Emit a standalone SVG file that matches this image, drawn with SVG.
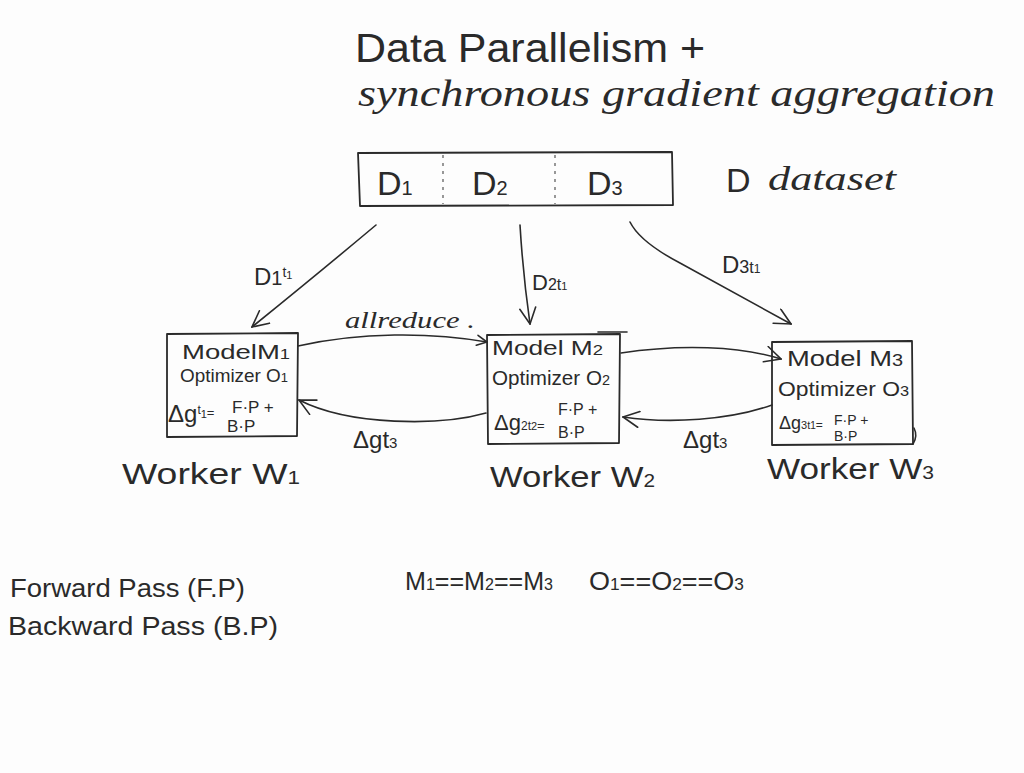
<svg xmlns="http://www.w3.org/2000/svg" width="1024" height="773" viewBox="0 0 1024 773">
<style>
.t{font-family:"Liberation Sans","DejaVu Sans",sans-serif;fill:#2a2a2a}
.c{font-family:"Liberation Serif","DejaVu Serif",serif;font-style:italic;fill:#2a2a2a}
.ln{fill:none;stroke:#2a2a2a;stroke-width:1.6;stroke-linecap:round;stroke-linejoin:round}
.bx{fill:none;stroke:#2a2a2a;stroke-width:1.8;stroke-linejoin:round}
.dv{fill:none;stroke:#555;stroke-width:1.2;stroke-dasharray:3 5}
</style>
<defs>
<marker id="ah" viewBox="0 0 12 12" refX="11" refY="6" markerWidth="12" markerHeight="12" markerUnits="userSpaceOnUse" orient="auto">
<path d="M1,1 L11,6 L1,11" fill="none" stroke="#2a2a2a" stroke-width="1.6" stroke-linecap="round"/>
</marker>
<marker id="ahL" viewBox="0 0 18 18" refX="17" refY="9" markerWidth="18" markerHeight="18" markerUnits="userSpaceOnUse" orient="auto">
<path d="M1,1 L17,9 L1,17" fill="none" stroke="#2a2a2a" stroke-width="1.6" stroke-linecap="round"/>
</marker>
</defs>
<rect width="1024" height="773" fill="#fdfdfd"/>

<g id="title">
<text class="t" x="355" y="62" font-size="40" textLength="350" lengthAdjust="spacingAndGlyphs">Data Parallelism +</text>
<text class="c" x="358" y="106" font-size="37" textLength="637" lengthAdjust="spacingAndGlyphs">synchronous gradient aggregation</text>
</g>

<g id="dataset">
<path class="bx" d="M358,153 L672,152 L673,205 L360,206 Z"/>
<line class="dv" x1="443" y1="155" x2="443" y2="204"/>
<line class="dv" x1="555" y1="155" x2="555" y2="204"/>
<text class="t" x="377" y="195" font-size="34">D<tspan font-size="20">1</tspan></text>
<text class="t" x="472" y="195" font-size="34">D<tspan font-size="20">2</tspan></text>
<text class="t" x="587" y="195" font-size="34">D<tspan font-size="20">3</tspan></text>
<text class="t" x="726" y="192" font-size="34">D</text>
<text class="c" x="768" y="190" font-size="34" textLength="128" lengthAdjust="spacingAndGlyphs">dataset</text>
</g>

<g id="w1">
<path class="bx" d="M167,334 L298,333 L297,436 L167,437 Z"/>
<text class="t" x="182" y="359" font-size="21" textLength="108" lengthAdjust="spacingAndGlyphs">ModelM<tspan font-size="14">1</tspan></text>
<text class="t" x="180" y="382" font-size="19" textLength="108" lengthAdjust="spacingAndGlyphs">Optimizer O<tspan font-size="13">1</tspan></text>
<text class="t" x="168" y="422" font-size="24">Δg<tspan font-size="12" dy="-8">t</tspan><tspan font-size="11" dy="4">1</tspan><tspan font-size="13" dy="-1">=</tspan></text>
<text class="t" x="232" y="413" font-size="17">F·P +</text>
<text class="t" x="227" y="432" font-size="17">B·P</text>
</g>

<g id="w2">
<path class="bx" d="M487,335 L620,334 L619,443 L488,444 Z"/>
<path class="ln" d="M598,332 L627,332"/>
<text class="t" x="492" y="355" font-size="20" textLength="111" lengthAdjust="spacingAndGlyphs">Model M<tspan font-size="14">2</tspan></text>
<text class="t" x="492" y="385" font-size="20" textLength="118" lengthAdjust="spacingAndGlyphs">Optimizer O<tspan font-size="14">2</tspan></text>
<text class="t" x="494" y="430" font-size="22">Δg<tspan font-size="12">2</tspan><tspan font-size="12">t</tspan><tspan font-size="11">2</tspan><tspan font-size="13">=</tspan></text>
<text class="t" x="558" y="415" font-size="16">F·P +</text>
<text class="t" x="558" y="438" font-size="16">B·P</text>
</g>

<g id="w3">
<path class="bx" d="M772,342 L912,341 L913,444 L772,445 Z"/>
<path class="ln" d="M914,428 Q918,436 913,444"/>
<text class="t" x="787" y="366" font-size="22" textLength="116" lengthAdjust="spacingAndGlyphs">Model M<tspan font-size="16">3</tspan></text>
<text class="t" x="778" y="396" font-size="21" textLength="131" lengthAdjust="spacingAndGlyphs">Optimizer O<tspan font-size="15">3</tspan></text>
<text class="t" x="779" y="429" font-size="18">Δg<tspan font-size="11">3</tspan><tspan font-size="11">t</tspan><tspan font-size="10">1</tspan><tspan font-size="12">=</tspan></text>
<text class="t" x="834" y="425" font-size="14">F·P +</text>
<text class="t" x="834" y="441" font-size="14">B·P</text>
</g>

<g id="worker-labels">
<text class="t" x="122" y="484" font-size="30" textLength="178" lengthAdjust="spacingAndGlyphs">Worker W<tspan font-size="18">1</tspan></text>
<text class="t" x="490" y="487" font-size="30" textLength="165" lengthAdjust="spacingAndGlyphs">Worker W<tspan font-size="18">2</tspan></text>
<text class="t" x="767" y="479" font-size="30" textLength="167" lengthAdjust="spacingAndGlyphs">Worker W<tspan font-size="18">3</tspan></text>
</g>

<g id="connectors">
<path class="ln" d="M376,225 Q320,272 252,327" marker-end="url(#ahL)"/>
<path class="ln" d="M520,225 Q523,275 530,324" marker-end="url(#ahL)"/>
<path class="ln" d="M630,222 Q640,242 680,263 L791,324" marker-end="url(#ahL)"/>
<path class="ln" d="M298,346 C360,332 430,332 487,342" marker-end="url(#ah)"/>
<path class="ln" d="M486,413 C440,426 350,426 299,400" marker-end="url(#ahL)"/>
<path class="ln" d="M621,353 C680,344 740,346 781,359" marker-end="url(#ahL)"/>
<path class="ln" d="M772,405 C730,420 670,424 623,417" marker-end="url(#ahL)"/>
</g>

<g id="connector-labels">
<text class="t" x="254" y="285" font-size="24">D<tspan font-size="20">1</tspan><tspan font-size="14" dy="-8">t</tspan><tspan font-size="11" dy="2">1</tspan></text>
<text class="t" x="532" y="290" font-size="22">D<tspan font-size="16">2</tspan><tspan font-size="16">t</tspan><tspan font-size="11">1</tspan></text>
<text class="t" x="722" y="273" font-size="24">D<tspan font-size="18">3</tspan><tspan font-size="16">t</tspan><tspan font-size="12">1</tspan></text>
<text class="c" x="345" y="328" font-size="24" textLength="130" lengthAdjust="spacingAndGlyphs">allreduce .</text>
<text class="t" x="353" y="448" font-size="24">Δgt<tspan font-size="15">3</tspan></text>
<text class="t" x="683" y="448" font-size="24">Δgt<tspan font-size="15">3</tspan></text>
</g>

<g id="legend">
<text class="t" x="10" y="597" font-size="26" textLength="235" lengthAdjust="spacingAndGlyphs">Forward Pass (F.P)</text>
<text class="t" x="8" y="635" font-size="26" textLength="270" lengthAdjust="spacingAndGlyphs">Backward Pass (B.P)</text>
</g>

<g id="equalities">
<text class="t" x="405" y="590" font-size="25" textLength="148" lengthAdjust="spacingAndGlyphs">M<tspan font-size="16">1</tspan>==M<tspan font-size="16">2</tspan>==M<tspan font-size="16">3</tspan></text>
<text class="t" x="589" y="590" font-size="25" textLength="155" lengthAdjust="spacingAndGlyphs">O<tspan font-size="16">1</tspan>==O<tspan font-size="16">2</tspan>==O<tspan font-size="16">3</tspan></text>
</g>
</svg>
